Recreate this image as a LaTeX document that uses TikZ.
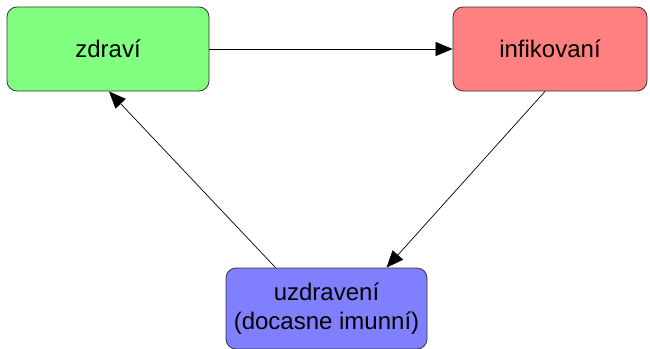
\documentclass[tikz,border=0pt]{standalone}
\usepackage{fontspec}
\setmainfont{Liberation Sans}
\usetikzlibrary{arrows.meta}
\definecolor{cgreen}{RGB}{128,255,128}
\definecolor{cred}{RGB}{255,128,128}
\definecolor{cblue}{RGB}{128,128,255}
\definecolor{cborder}{RGB}{51,51,51}
\begin{document}
\begin{tikzpicture}[x=1pt,y=-1pt,
  box/.style={draw=cborder, line width=0.8pt, rounded corners=10pt,
    minimum height=84pt, inner sep=0pt, align=center,
    font=\fontsize{24}{29}\selectfont},
  arr/.style={-{Triangle[length=17pt,width=14pt]}, line width=0.7pt, draw=black}]
\useasboundingbox (0,0) rectangle (650,348);
\node[box, fill=cgreen, minimum width=202pt] (zd) at (108,49) {zdraví};
\node[box, fill=cred, minimum width=194pt] (inf) at (550,49) {infikovaní};
\node[box, fill=cblue, minimum width=201pt, minimum height=81pt] (uz) at (326.5,308.5) {uzdravení\\(docasne imunní)};
\draw[arr] (zd.east) -- (inf.west);
\draw[arr] ([xshift=-5pt]inf.south) -- ([xshift=60pt]uz.north);
\draw[arr] ([xshift=-51pt]uz.north) -- ([xshift=1pt]zd.south);
\end{tikzpicture}
\end{document}
